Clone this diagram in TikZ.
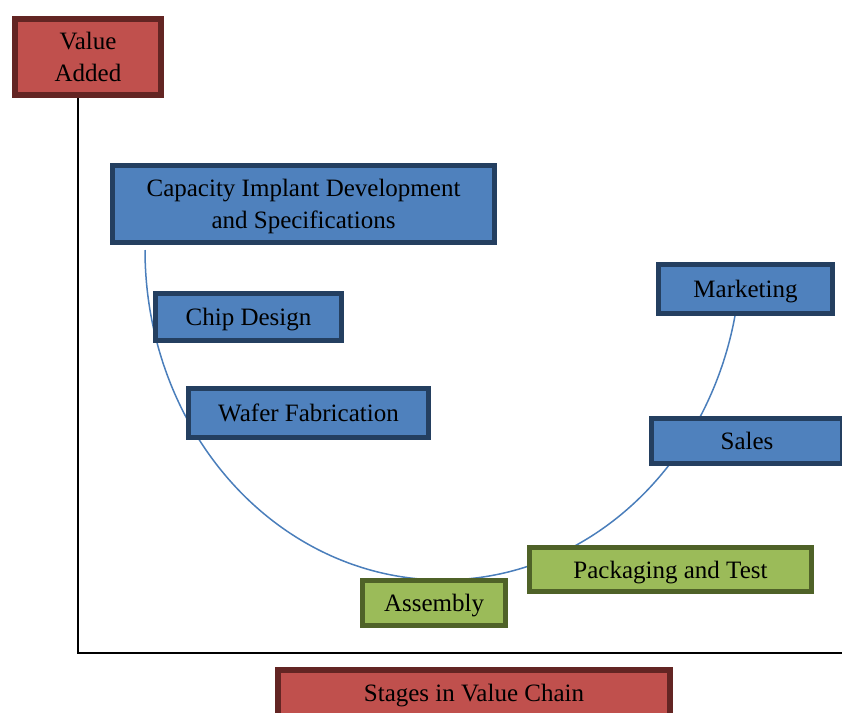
\documentclass[tikz,border=0pt]{standalone}
\usepackage{fontspec}
\setmainfont{Liberation Serif}
\definecolor{bfill}{HTML}{4F81BD}
\definecolor{bdraw}{HTML}{243F60}
\definecolor{gfill}{HTML}{9BBB59}
\definecolor{gdraw}{HTML}{4F6228}
\definecolor{rfill}{HTML}{C0504D}
\definecolor{rdraw}{HTML}{632523}
\definecolor{curve}{HTML}{4A7EBB}
\tikzset{
  box/.style={line width=2.5pt, inner sep=0pt, align=center, font=\fontsize{12.5}{16}\selectfont,
    text height=11.5pt, text depth=2.7pt},
  twoline/.style={text height=27.5pt, text depth=2.7pt},
  bluebox/.style={box, fill=bfill, draw=bdraw},
  greenbox/.style={box, fill=gfill, draw=gdraw},
  redbox/.style={box, fill=rfill, draw=rdraw, line width=3pt},
  axis/.style={line width=1pt, black},
  chain/.style={curve, line width=0.75pt}
}
\begin{document}
\begin{tikzpicture}[x=0.5pt,y=-0.5pt]
\useasboundingbox (0,0) rectangle (842,713);
\clip (0,0) rectangle (842,713);
% axes
\coordinate (origin) at (78,653);
\coordinate (xend) at (842,653);
\node[redbox, twoline, minimum width=73pt, minimum height=38pt] (va) at (88,57) {Value\\Added};
\draw[axis] (origin |- va.south) -- (origin) -- (xend);
% value chain curve (drawn behind the boxes)
\draw[chain] plot[domain=180:348.5, samples=120, smooth] ({443+298*cos(\x)}, {250-330*sin(\x)});
% stages
\node[bluebox, twoline, minimum width=191pt, minimum height=38.5pt] (cap) at (303.5,204) {Capacity Implant Development\\and Specifications};
\node[bluebox, minimum width=93pt, minimum height=23.5pt] (chip) at (248.5,317) {Chip Design};
\node[bluebox, minimum width=120pt, minimum height=24.5pt] (wafer) at (308.5,413) {Wafer Fabrication};
\node[bluebox, minimum width=87pt, minimum height=24.5pt] (mkt) at (745.5,289) {Marketing};
\node[bluebox, minimum width=95.5pt, minimum height=22.5pt] (sales) at (747,441) {Sales};
\node[greenbox, minimum width=141pt, minimum height=22pt] (pack) at (670.5,569.5) {Packaging and Test};
\node[greenbox, minimum width=71.5pt, minimum height=22.5pt] (asm) at (434,603) {Assembly};
\node[redbox, minimum width=196pt, minimum height=23pt] (stages) at (474,693) {Stages in Value Chain};
\end{tikzpicture}
\end{document}
